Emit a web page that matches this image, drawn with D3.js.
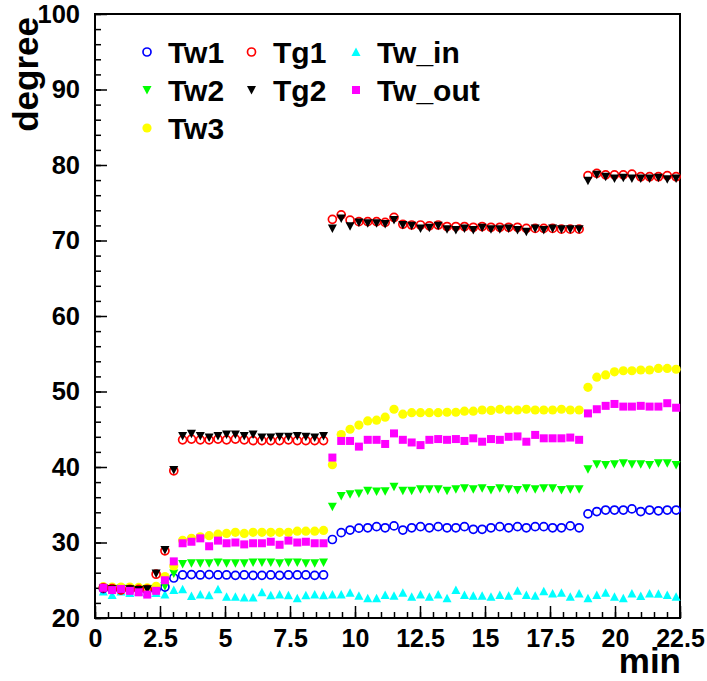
<!DOCTYPE html>
<html>
<head>
<meta charset="utf-8">
<script src="https://cdn.jsdelivr.net/npm/d3@7"></script>
<style>
  body { margin: 0; background: #fff; }
  svg text { font-family: "Liberation Sans", Arial, Helvetica, sans-serif; font-weight: bold; }
</style>
</head>
<body>
<svg id="chart" width="707" height="681"></svg>
<script>
// time of each reading (min)
const time = [0.32, 0.66, 1.00, 1.34, 1.68, 2.01, 2.35, 2.69, 3.03, 3.37, 3.71, 4.05, 4.39, 4.73, 5.06, 5.40,
  5.74, 6.08, 6.42, 6.76, 7.10, 7.44, 7.78, 8.11, 8.45, 8.79,
  9.13, 9.47, 9.81, 10.15, 10.49, 10.83, 11.16, 11.50, 11.84, 12.18, 12.52, 12.86, 13.20, 13.54, 13.88,
  14.21, 14.55, 14.89, 15.23, 15.57, 15.91, 16.25, 16.59, 16.93, 17.26, 17.60, 17.94, 18.28, 18.62,
  18.96, 19.30, 19.64, 19.98, 20.32, 20.65, 20.99, 21.33, 21.67, 22.01, 22.35];

const tw1 = [23.9, 23.8, 23.9, 23.8, 23.8, 23.7, 23.8, 24.1, 25.3, 25.7, 25.75, 25.7, 25.75, 25.7, 25.7, 25.65,
  25.7, 25.65, 25.65, 25.7, 25.65, 25.7, 25.7, 25.7, 25.65, 25.7,
  30.4, 31.3, 31.65, 31.9, 31.95, 32.1, 31.95, 32.2, 31.65, 31.95, 32.1, 31.95, 32.1, 31.95, 31.95,
  32.1, 31.75, 31.75, 31.95, 32.1, 31.95, 32.1, 31.95, 32.1, 32.1, 31.95, 31.95, 32.2, 31.95,
  33.8, 34.1, 34.3, 34.3, 34.3, 34.45, 34.1, 34.3, 34.2, 34.3, 34.3];

const tw2 = [23.9, 23.8, 23.9, 23.8, 23.8, 23.8, 23.9, 24.2, 25.9, 27.15, 27.25, 27.25, 27.25, 27.35, 27.25, 27.25,
  27.25, 27.35, 27.35, 27.35, 27.25, 27.35, 27.35, 27.25, 27.25, 27.35,
  34.75, 36.15, 36.4, 36.5, 36.85, 36.75, 36.8, 37.4, 36.85, 36.85, 37.05, 37.05, 37.05, 36.85, 37.05,
  37.2, 37.05, 37.2, 36.95, 37.2, 37.05, 36.95, 37.2, 37.05, 37.2, 37.2, 36.95, 37.05, 37.05,
  39.7, 40.35, 40.25, 40.35, 40.5, 40.35, 40.35, 40.25, 40.5, 40.5, 40.25];

const tw3 = [24.15, 24.1, 24.1, 24.1, 24.05, 24.0, 24.2, 25.5, 26.9, 30.3, 30.55, 30.75, 30.9, 31.1, 31.2, 31.35,
  31.2, 31.35, 31.35, 31.35, 31.35, 31.35, 31.5, 31.5, 31.5, 31.6,
  40.3, 44.3, 45.0, 45.55, 46.1, 46.2, 46.6, 47.65, 47.0, 47.2, 47.2, 47.2, 47.2, 47.25, 47.25,
  47.4, 47.4, 47.55, 47.5, 47.65, 47.55, 47.55, 47.65, 47.55, 47.55, 47.55, 47.65, 47.55, 47.55,
  50.55, 51.9, 52.2, 52.6, 52.75, 52.75, 52.85, 52.85, 53.05, 53.05, 52.95];

const tg1 = [24.0, 23.9, 23.7, 23.8, 23.8, 23.8, 25.8, 28.9, 39.5, 43.6, 43.7, 43.6, 43.6, 43.7, 43.6, 43.7,
  43.6, 43.5, 43.5, 43.5, 43.5, 43.6, 43.5, 43.5, 43.5, 43.5,
  72.8, 73.4, 72.7, 72.5, 72.5, 72.5, 72.4, 73.05, 72.15, 72.05, 72.05, 71.95, 72.05, 71.85, 71.85,
  71.85, 71.75, 71.85, 71.75, 71.75, 71.75, 71.75, 71.6, 71.6, 71.6, 71.6, 71.5, 71.5, 71.5,
  78.6, 78.9, 78.7, 78.7, 78.7, 78.8, 78.45, 78.45, 78.45, 78.6, 78.45];

const tg2 = [23.9, 23.8, 23.8, 23.8, 23.7, 23.8, 25.9, 29.0, 39.6, 44.1, 44.4, 44.1, 43.9, 44.1, 44.3, 44.3,
  44.1, 44.3, 43.9, 43.9, 44.0, 44.0, 44.1, 44.0, 43.9, 44.1,
  71.6, 72.9, 71.9, 72.4, 72.3, 72.3, 72.2, 72.7, 72.05, 71.95, 71.6, 71.7, 71.95, 71.5, 71.4,
  71.6, 71.4, 71.7, 71.5, 71.5, 71.6, 71.4, 71.15, 71.6, 71.4, 71.6, 71.5, 71.5, 71.5,
  77.9, 78.7, 78.45, 78.2, 78.3, 78.2, 78.2, 78.2, 78.3, 78.1, 78.2];

const twIn = [23.5, 23.05, 23.5, 23.3, 23.5, 23.3, 23.3, 23.1, 23.7, 23.8, 22.9, 23.1, 23.0, 23.8, 22.8, 22.8,
  22.7, 22.7, 23.4, 23.0, 23.1, 23.0, 22.6, 23.0, 23.1, 23.0,
  23.1, 23.1, 23.35, 22.95, 22.6, 22.6, 23.05, 22.95, 23.35, 22.8, 23.1, 22.8, 23.1, 22.6, 23.7,
  23.05, 22.95, 22.95, 22.8, 23.05, 22.95, 23.6, 23.05, 22.95, 23.55, 23.25, 23.35, 22.8, 23.25,
  22.6, 23.05, 23.35, 22.8, 22.6, 23.25, 22.9, 23.25, 23.2, 23.05, 22.8];

const twOut = [24.0, 23.7, 23.85, 23.6, 23.4, 23.1, 23.6, 25.0, 27.5, 29.9, 30.1, 30.55, 29.5, 30.25, 29.9, 30.0,
  29.75, 29.9, 29.9, 30.1, 29.7, 30.25, 30.0, 30.1, 29.9, 29.9,
  41.25, 43.45, 43.45, 42.7, 43.6, 43.6, 43.05, 44.45, 43.6, 43.25, 42.9, 43.6, 43.7, 43.6, 43.7,
  43.45, 43.8, 43.35, 43.7, 43.6, 44.0, 44.05, 43.35, 44.25, 43.8, 43.8, 43.8, 43.9, 43.6,
  47.1, 47.65, 48.1, 48.35, 48.0, 48.0, 48.1, 48.0, 48.0, 48.45, 47.85];

const xTicks = [0, 2.5, 5, 7.5, 10, 12.5, 15, 17.5, 20, 22.5];
const yTicks = [20, 30, 40, 50, 60, 70, 80, 90, 100];

// series: name, values, marker, colour (drawing order)
const series = [
  { name: "Tw_in", values: twIn, marker: "triUp", color: "#00ffff" },
  { name: "Tw1", values: tw1, marker: "openCircle", color: "#0000ff" },
  { name: "Tw2", values: tw2, marker: "triDown", color: "#00ff00" },
  { name: "Tw3", values: tw3, marker: "fullCircle", color: "#ffff00" },
  { name: "Tg1", values: tg1, marker: "openCircle", color: "#ff0000" },
  { name: "Tg2", values: tg2, marker: "triDown", color: "#000000" },
  { name: "Tw_out", values: twOut, marker: "square", color: "#ff00ff" }
];

// legend layout: [name, column, row]
const legendItems = [
  ["Tw1", 0, 0], ["Tg1", 1, 0], ["Tw_in", 2, 0],
  ["Tw2", 0, 1], ["Tg2", 1, 1], ["Tw_out", 2, 1],
  ["Tw3", 0, 2]
];

const svg = d3.select("#chart");
const frameL = 95, frameR = 680, frameT = 14, frameB = 618;

const x = d3.scaleLinear().domain([0, 22.5]).range([frameL, frameR]);
const y = d3.scaleLinear().domain([20, 100]).range([frameB, frameT]);

// draw a marker of a given type at (cx, cy)
function drawMarker(g, type, color, cx, cy) {
  if (type === "openCircle") {
    g.append("circle").attr("cx", cx).attr("cy", cy).attr("r", 4)
      .attr("fill", "none").attr("stroke", color).attr("stroke-width", 1.7);
  } else if (type === "fullCircle") {
    g.append("circle").attr("cx", cx).attr("cy", cy).attr("r", 4.6).attr("fill", color);
  } else if (type === "square") {
    g.append("rect").attr("x", cx - 4).attr("y", cy - 4).attr("width", 8).attr("height", 8).attr("fill", color);
  } else if (type === "triDown") {
    g.append("path").attr("d", `M${cx - 4.5},${cy - 4}L${cx + 4.5},${cy - 4}L${cx},${cy + 4.5}Z`).attr("fill", color);
  } else if (type === "triUp") {
    g.append("path").attr("d", `M${cx - 4.5},${cy + 4}L${cx + 4.5},${cy + 4}L${cx},${cy - 4.5}Z`).attr("fill", color);
  }
}

// axes: minor ticks first, then major ticks with labels
const xMinor = d3.range(0, 22.51, 0.5);
const yMinor = d3.range(20, 100.01, 2);

svg.append("g").attr("transform", `translate(0,${frameB})`)
  .call(d3.axisBottom(x).tickValues(xMinor).tickSize(-6).tickFormat(""))
  .call(g => g.select(".domain").remove());
svg.append("g").attr("transform", `translate(${frameL},0)`)
  .call(d3.axisLeft(y).tickValues(yMinor).tickSize(-6).tickFormat(""))
  .call(g => g.select(".domain").remove());

const xAxis = svg.append("g").attr("transform", `translate(0,${frameB})`)
  .call(d3.axisBottom(x).tickValues(xTicks).tickSize(-12).tickPadding(11).tickFormat(d => d))
  .call(g => g.select(".domain").remove());
xAxis.selectAll("text").attr("font-size", 25).attr("fill", "#000");

const yAxis = svg.append("g").attr("transform", `translate(${frameL},0)`)
  .call(d3.axisLeft(y).tickValues(yTicks).tickSize(-12).tickPadding(15))
  .call(g => g.select(".domain").remove());
yAxis.selectAll("text").attr("font-size", 25.5).attr("fill", "#000");

svg.selectAll(".tick line").attr("stroke", "#000").attr("stroke-width", 1.5);

// frame
svg.append("rect")
  .attr("x", frameL).attr("y", frameT).attr("width", frameR - frameL).attr("height", frameB - frameT)
  .attr("fill", "none").attr("stroke", "#000").attr("stroke-width", 2);

// data markers
const plot = svg.append("g");
series.forEach(s => {
  const g = plot.append("g").attr("class", s.name);
  s.values.forEach((v, i) => drawMarker(g, s.marker, s.color, x(time[i]), y(v)));
});

// axis titles
svg.append("text")
  .attr("x", frameR + 1).attr("y", 673).attr("text-anchor", "end")
  .attr("font-size", 35).text("min");
svg.append("text")
  .attr("transform", "translate(38,17) rotate(-90)").attr("text-anchor", "end")
  .attr("font-size", 35).text("degree");

// legend
const colMarkerX = [147, 251.5, 356];
const colTextX = [168, 273, 377];
const rowY = [52, 90, 128];
const legend = svg.append("g");
legendItems.forEach(([name, c, r]) => {
  const s = series.find(d => d.name === name);
  drawMarker(legend, s.marker, s.color, colMarkerX[c], rowY[r]);
  legend.append("text")
    .attr("x", colTextX[c]).attr("y", rowY[r] + 11)
    .attr("font-size", 30).text(name);
});
</script>
</body>
</html>
